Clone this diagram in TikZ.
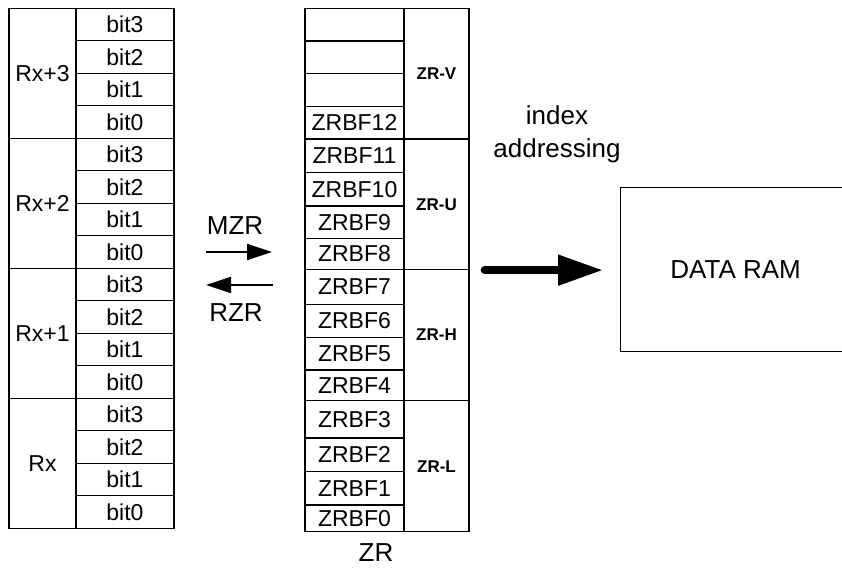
\documentclass[tikz,border=0pt]{standalone}
\usepackage{fontspec}
\setmainfont{Liberation Sans}
\usetikzlibrary{arrows.meta}
\begin{document}
\begin{tikzpicture}[x=1pt,y=-1pt,line width=1.3pt,
  cellfont/.style={font=\fontsize{23}{26}\selectfont},
  bigfont/.style={font=\fontsize{26}{33}\selectfont},
  bitcell/.style={draw,rectangle,inner sep=0pt,minimum width=98pt,minimum height=32.5pt,cellfont},
  rxcell/.style={draw,rectangle,inner sep=0pt,minimum width=67pt,minimum height=130pt,cellfont},
  zcell/.style={draw,rectangle,inner sep=0pt,minimum width=99pt,cellfont},
  zgrp/.style={draw,rectangle,inner sep=0pt,minimum width=65pt,font=\fontsize{17}{20}\selectfont\bfseries},
  thinarr/.style={line width=2pt,-{Triangle[length=25pt,width=16pt]}},
  bigarr/.style={line width=8pt,line cap=round,-{Triangle[length=45pt,width=29pt]}}]
\useasboundingbox (0,0) rectangle (842,567);
% left block
\foreach \k/\t in {0/bit3,1/bit2,2/bit1,3/bit0,4/bit3,5/bit2,6/bit1,7/bit0,8/bit3,9/bit2,10/bit1,11/bit0,12/bit3,13/bit2,14/bit1,15/bit0}
  \node[bitcell] (b\k) at (125,{8.3+32.5*(\k+0.5)}) {\t};
\node[rxcell] (rx3) at (42.5,73.3) {Rx+3};
\node[rxcell] (rx2) at (42.5,203.3) {Rx+2};
\node[rxcell] (rx1) at (42.5,333.3) {Rx+1};
\node[rxcell] (rx0) at (42.5,463.3) {Rx};
% ZR block
\foreach \i/\a/\b/\t in {15/8.3/41/{},14/41/73.7/{},13/73.7/106.3/{},12/106.3/139/ZRBF12,
  11/139/172.7/ZRBF11,10/172.7/206/ZRBF10,9/206/238.3/ZRBF9,8/238.3/269.5/ZRBF8,
  7/269.5/304.3/ZRBF7,6/304.3/337.3/ZRBF6,5/337.3/370/ZRBF5,4/370/400.7/ZRBF4,
  3/400.7/438/ZRBF3,2/438/471.7/ZRBF2,1/471.7/505/ZRBF1}{
  \pgfmathsetmacro\hh{\b-\a}
  \pgfmathsetmacro\cy{(\a+\b)/2}
  \node[zcell,minimum height=\hh pt] (z\i) at (354.5,\cy) {\t};
}
\node[zcell,minimum height=26.7pt] (z0) at (354.5,518.35) {\raisebox{-4pt}{ZRBF0}};
\node[zgrp,minimum height=130.7pt] (zrV) at (436.5,73.65) {ZR-V};
\node[zgrp,minimum height=130.5pt] (zrU) at (436.5,204.25) {ZR-U};
\node[zgrp,minimum height=131.2pt] (zrH) at (436.5,335.1) {ZR-H};
\node[zgrp,minimum height=131pt] (zrL) at (436.5,466.2) {ZR-L};
\node[bigfont] (zrlabel) at (376,553) {ZR};
% transfer arrows
\node[bigfont] (mzr) at (235,226) {MZR};
\node[bigfont] (rzr) at (236,313) {RZR};
\coordinate (mzrA) at (206,252);
\coordinate (mzrB) at (272,252);
\coordinate (rzrA) at (273,285);
\coordinate (rzrB) at (206,285);
\draw[thinarr] (mzrA) -- (mzrB);
\draw[thinarr] (rzrA) -- (rzrB);
% data ram
\node[draw,rectangle,inner sep=0pt,minimum width=230pt,minimum height=164pt,anchor=north west,bigfont] (ram) at (620,187) {DATA RAM};
\node[bigfont,align=center] (idx) at (557,134) {index\\addressing};
\draw[bigarr] ([xshift=15pt]zrU.south east) -- ([xshift=-17pt]zrU.south east -| ram.west);
\end{tikzpicture}
\end{document}
